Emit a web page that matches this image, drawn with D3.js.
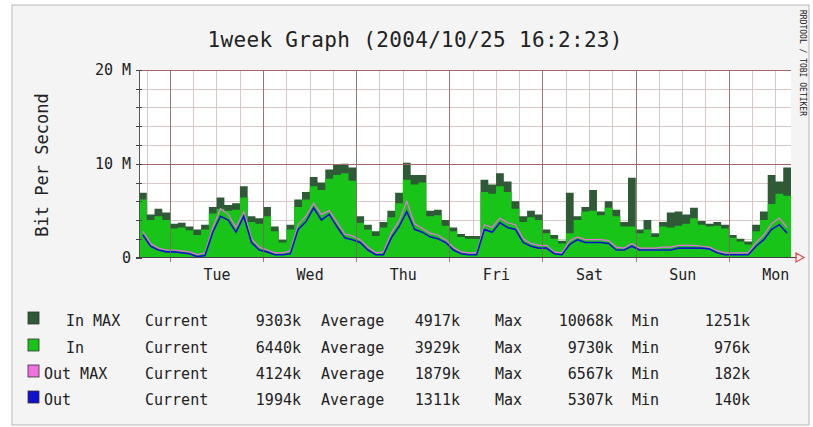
<!DOCTYPE html>
<html>
<head>
<meta charset="utf-8">
<script src="https://cdn.jsdelivr.net/npm/d3@7"></script>
<style>
 body { margin: 0; background: #ffffff; }
 text { font-family: "DejaVu Sans Mono", "Liberation Mono", monospace; fill: #222; }
</style>
</head>
<body>
<script>
 // *** values, in Mbit/s, one per 2 hours, starting one week before 2004/10/25 16:02
 var inMax = [6.9, 4.6, 5.2, 4.8, 3.6, 3.7, 3.3, 3.0, 3.5, 5.4, 6.4, 5.6, 5.8, 7.6, 4.4, 4.2,
  5.4, 3.3, 1.9, 3.5, 6.2, 7.0, 8.6, 8.0, 9.4, 9.9, 10.0, 9.6, 4.4, 3.5, 2.8, 3.8,
  5.0, 6.9, 10.1, 8.8, 8.8, 5.0, 5.1, 4.0, 3.2, 2.5, 2.3, 2.3, 8.3, 7.8, 9.0, 8.1,
  6.0, 4.4, 5.0, 4.6, 3.0, 2.4, 1.8, 6.9, 4.4, 5.4, 7.2, 4.9, 6.0, 5.1, 3.8, 8.5,
  3.0, 4.0, 2.6, 3.8, 4.8, 4.9, 4.6, 5.3, 3.9, 3.6, 3.8, 3.5, 2.4, 2.0, 1.7, 3.5,
  4.9, 8.8, 8.1, 9.6];
 var inAvg = [6.2, 4.0, 4.4, 4.0, 3.1, 3.2, 2.9, 2.4, 3.0, 4.7, 5.2, 5.0, 5.1, 6.4, 3.8, 3.6,
  4.4, 2.8, 1.6, 3.0, 5.4, 6.2, 7.6, 7.2, 8.4, 8.8, 9.0, 8.2, 3.7, 3.0, 2.3, 3.2,
  4.3, 5.8, 8.3, 7.8, 8.0, 4.4, 4.5, 3.4, 2.8, 2.2, 2.0, 2.0, 7.0, 6.8, 7.6, 7.0,
  5.2, 3.8, 4.3, 4.0, 2.6, 2.0, 1.5, 2.6, 4.0, 4.9, 5.0, 4.5, 5.3, 4.4, 3.3, 3.3,
  2.6, 3.0, 2.2, 3.3, 3.2, 3.4, 3.6, 4.2, 3.5, 3.3, 3.4, 3.1, 2.1, 1.7, 1.4, 2.8,
  4.0, 5.7, 6.8, 6.6];
 var outMax = [2.8, 1.5, 1.0, 0.8, 0.8, 0.7, 0.6, 0.3, 0.5, 3.2, 5.2, 4.6, 3.2, 4.9, 2.0, 1.1,
  0.8, 0.5, 0.5, 0.7, 3.5, 4.4, 5.8, 4.6, 5.0, 3.8, 2.5, 2.3, 1.9, 1.1, 0.5, 0.6,
  2.6, 3.9, 6.0, 3.6, 3.1, 2.6, 2.4, 1.9, 1.1, 0.6, 0.5, 0.5, 3.5, 3.2, 4.2, 3.7,
  3.5, 2.0, 1.5, 1.3, 1.3, 0.6, 0.5, 1.8, 2.2, 1.9, 1.9, 1.9, 1.8, 1.1, 1.0, 1.5,
  1.0, 1.0, 1.0, 1.1, 1.1, 1.3, 1.3, 1.3, 1.2, 1.1, 0.7, 0.5, 0.5, 0.5, 0.5, 1.6,
  2.4, 3.6, 4.2, 3.2];
 var outAvg = [2.4, 1.2, 0.8, 0.6, 0.6, 0.5, 0.4, 0.1, 0.2, 2.7, 4.4, 4.0, 2.7, 4.4, 1.6, 0.8,
  0.6, 0.3, 0.3, 0.4, 3.0, 3.8, 5.3, 4.0, 4.6, 3.3, 2.1, 1.9, 1.6, 0.8, 0.3, 0.3,
  2.1, 3.3, 4.9, 3.0, 2.7, 2.2, 2.0, 1.6, 0.8, 0.4, 0.3, 0.3, 3.0, 2.7, 3.7, 3.2,
  3.0, 1.6, 1.2, 1.0, 1.0, 0.4, 0.3, 1.4, 1.9, 1.6, 1.6, 1.6, 1.5, 0.8, 0.8, 1.2,
  0.8, 0.8, 0.8, 0.8, 0.8, 1.0, 1.0, 1.0, 1.0, 0.9, 0.5, 0.3, 0.3, 0.3, 0.3, 1.2,
  1.9, 3.0, 3.5, 2.6];

 var yTicks = [0, 10, 20];
 var yTickLabels = ["0", "10 M", "20 M"];

 // *** legend table
 var legendNames = ["In MAX", "In", "Out MAX", "Out"];
 var legendColors = ["#2e5a36", "#18c418", "#f070e0", "#1010d0"];
 var currentVals = ["9303k", "6440k", "4124k", "1994k"];
 var avgVals = ["4917k", "3929k", "1879k", "1311k"];
 var maxVals = ["10068k", "9730k", "6567k", "5307k"];
 var minVals = ["1251k", "976k", "182k", "140k"];

 var width = 813
 var height = 427
 var endTime = new Date(Date.UTC(2004, 9, 25, 16, 2));
 var startTime = new Date(endTime.getTime() - 7 * 24 * 3600 * 1000);
 var step = 2 * 3600 * 1000;

 function toPoints(arr) {
  var pts = arr.map(function(v, i) { return { t: new Date(startTime.getTime() + i * step), v: v }; });
  pts.push({ t: endTime, v: arr[arr.length - 1] });
  return pts;
 }
 function toMidPoints(arr) {
  return arr.map(function(v, i) { return { t: new Date(startTime.getTime() + i * step + step / 2), v: v }; });
 }

 var svg = d3.select('body')
  .append('svg')
  .attr('width', width)
  .attr('height', height);

 // *** outer canvas
 svg.append('rect')
  .attr('x', 12).attr('y', 5)
  .attr('width', 797).attr('height', 420)
  .attr('fill', '#f4f4f4')
  .attr('stroke', '#b8b8b8');

 var xScale = d3.scaleUtc()
  .domain([startTime, endTime])
  .range([139, 791]);

 var yScale = d3.scaleLinear()
  .domain([0, 20])
  .range([257.5, 70]);

 // plot background
 svg.append('rect')
  .attr('x', 139).attr('y', 70)
  .attr('width', 652).attr('height', 187.5)
  .attr('fill', '#ffffff');

 // *** grid
 var minorH = d3.range(2, 21, 2).filter(function(d) { return d % 10 != 0; });
 svg.selectAll('.hminor').data(minorH).enter().append('line')
  .attr('x1', 139).attr('x2', 791)
  .attr('y1', function(d) { return Math.round(yScale(d)) + 0.5; })
  .attr('y2', function(d) { return Math.round(yScale(d)) + 0.5; })
  .attr('stroke', '#d8c8c8');

 var sixHours = d3.utcHour.every(6).range(startTime, endTime);
 svg.selectAll('.vminor').data(sixHours).enter().append('line')
  .attr('y1', 70).attr('y2', 257.5)
  .attr('x1', function(d) { return Math.round(xScale(d)) + 0.5; })
  .attr('x2', function(d) { return Math.round(xScale(d)) + 0.5; })
  .attr('stroke', '#d8c8c8');

 var days = d3.utcDay.range(startTime, endTime);

 // *** areas and lines
 var area = d3.area()
  .x(function(d) { return xScale(d.t); })
  .y0(yScale(0))
  .y1(function(d) { return yScale(d.v); })
  .curve(d3.curveStepAfter);

 var line = d3.line()
  .x(function(d) { return xScale(d.t); })
  .y(function(d) { return yScale(d.v); });

 svg.append('path').attr('d', area(toPoints(inMax))).attr('fill', legendColors[0]);
 svg.append('path').attr('d', area(toPoints(inAvg))).attr('fill', legendColors[1]);
 svg.append('path').attr('d', line(toMidPoints(outMax)))
  .attr('fill', 'none').attr('stroke', legendColors[2]).attr('stroke-width', 1.2);
 svg.append('path').attr('d', line(toMidPoints(outAvg)))
  .attr('fill', 'none').attr('stroke', legendColors[3]).attr('stroke-width', 1.6);

 // major grid on top of the graph
 svg.selectAll('.hmajor').data([10, 20]).enter().append('line')
  .attr('x1', 136).attr('x2', 791)
  .attr('y1', function(d) { return Math.round(yScale(d)) + 0.5; })
  .attr('y2', function(d) { return Math.round(yScale(d)) + 0.5; })
  .attr('stroke', '#a06a6a');
 svg.selectAll('.vmajor').data(days).enter().append('line')
  .attr('y1', 70).attr('y2', 262)
  .attr('x1', function(d) { return Math.round(xScale(d)) + 0.5; })
  .attr('x2', function(d) { return Math.round(xScale(d)) + 0.5; })
  .attr('stroke', '#806464')
  .attr('stroke-opacity', 0.8);

 // *** y axis
 var yAxis = d3.axisLeft(yScale)
  .tickValues(yTicks)
  .tickSize(0)
  .tickPadding(8)
  .tickFormat(function(d, i) { return yTickLabels[i]; });
 var yG = svg.append('g')
  .attr('transform', 'translate(139,0)')
  .call(yAxis);
 yG.select('.domain').attr('stroke', '#555');
 yG.selectAll('text').style('font-size', '15px').attr('fill', '#333');
 svg.selectAll('.ytick').data(d3.range(0, 21, 2)).enter().append('line')
  .attr('x1', 136).attr('x2', 142)
  .attr('y1', function(d) { return Math.round(yScale(d)) + 0.5; })
  .attr('y2', function(d) { return Math.round(yScale(d)) + 0.5; })
  .attr('stroke', '#444');

 // *** x axis (labels at noon)
 var noons = days.map(function(d) { return d3.utcHour.offset(d, 12); })
  .filter(function(d) { return d < endTime; });
 var xAxis = d3.axisBottom(xScale)
  .tickValues(noons)
  .tickSize(0)
  .tickPadding(12)
  .tickFormat(d3.utcFormat('%a'));
 var xG = svg.append('g')
  .attr('transform', 'translate(0,257.5)')
  .call(xAxis);
 xG.select('.domain').remove();
 xG.selectAll('text').style('font-size', '15px').attr('fill', '#333');

 svg.append('line')
  .attr('x1', 136).attr('x2', 797)
  .attr('y1', 257.5).attr('y2', 257.5)
  .attr('stroke', '#444');
 svg.append('path')
  .attr('d', 'M796,253 L804,257.5 L796,262 Z')
  .attr('fill', 'none')
  .attr('stroke', '#e05050')
  .attr('stroke-width', 1.3);

 // y axis label
 svg.append('text')
  .attr('transform', 'translate(48,165) rotate(-90)')
  .style('text-anchor', 'middle')
  .style('font-size', '17px')
  .attr('fill', '#333')
  .text('Bit Per Second');

 // chart title
 svg.append('text')
  .attr('x', 415).attr('y', 47)
  .style('text-anchor', 'middle')
  .style('font-size', '21px')
  .attr('textLength', 415)
  .attr('fill', '#333')
  .text('1week Graph (2004/10/25 16:2:23)');

 // rrdtool credit
 svg.append('text')
  .attr('transform', 'translate(800,10) rotate(90)')
  .style('font-size', '8px')
  .attr('fill', '#aaa')
  .text('RRDTOOL / TOBI OETIKER');

 // *** legend
 var rowY = [321, 348, 374, 400];
 var rows = svg.selectAll('.legend').data(legendNames).enter().append('g')
  .attr('transform', function(d, i) { return 'translate(0,' + rowY[i] + ')'; });
 rows.append('rect')
  .attr('x', 28).attr('y', -9)
  .attr('width', 11).attr('height', 12)
  .attr('fill', function(d, i) { return legendColors[i]; })
  .attr('stroke', '#333')
  .attr('stroke-width', 0.8);
 rows.append('text')
  .attr('x', function(d) { return d.indexOf('In') == 0 ? 66 : 44; })
  .attr('y', 5).style('font-size', '15px')
  .text(function(d) { return d; });
 rows.append('text').attr('x', 145).attr('y', 5).style('font-size', '15px').text('Current');
 rows.append('text').attr('x', 301).attr('y', 5).style('font-size', '15px')
  .style('text-anchor', 'end').text(function(d, i) { return currentVals[i]; });
 rows.append('text').attr('x', 321).attr('y', 5).style('font-size', '15px').text('Average');
 rows.append('text').attr('x', 460).attr('y', 5).style('font-size', '15px')
  .style('text-anchor', 'end').text(function(d, i) { return avgVals[i]; });
 rows.append('text').attr('x', 495).attr('y', 5).style('font-size', '15px').text('Max');
 rows.append('text').attr('x', 613).attr('y', 5).style('font-size', '15px')
  .style('text-anchor', 'end').text(function(d, i) { return maxVals[i]; });
 rows.append('text').attr('x', 632).attr('y', 5).style('font-size', '15px').text('Min');
 rows.append('text').attr('x', 750).attr('y', 5).style('font-size', '15px')
  .style('text-anchor', 'end').text(function(d, i) { return minVals[i]; });
</script>
</body>
</html>
